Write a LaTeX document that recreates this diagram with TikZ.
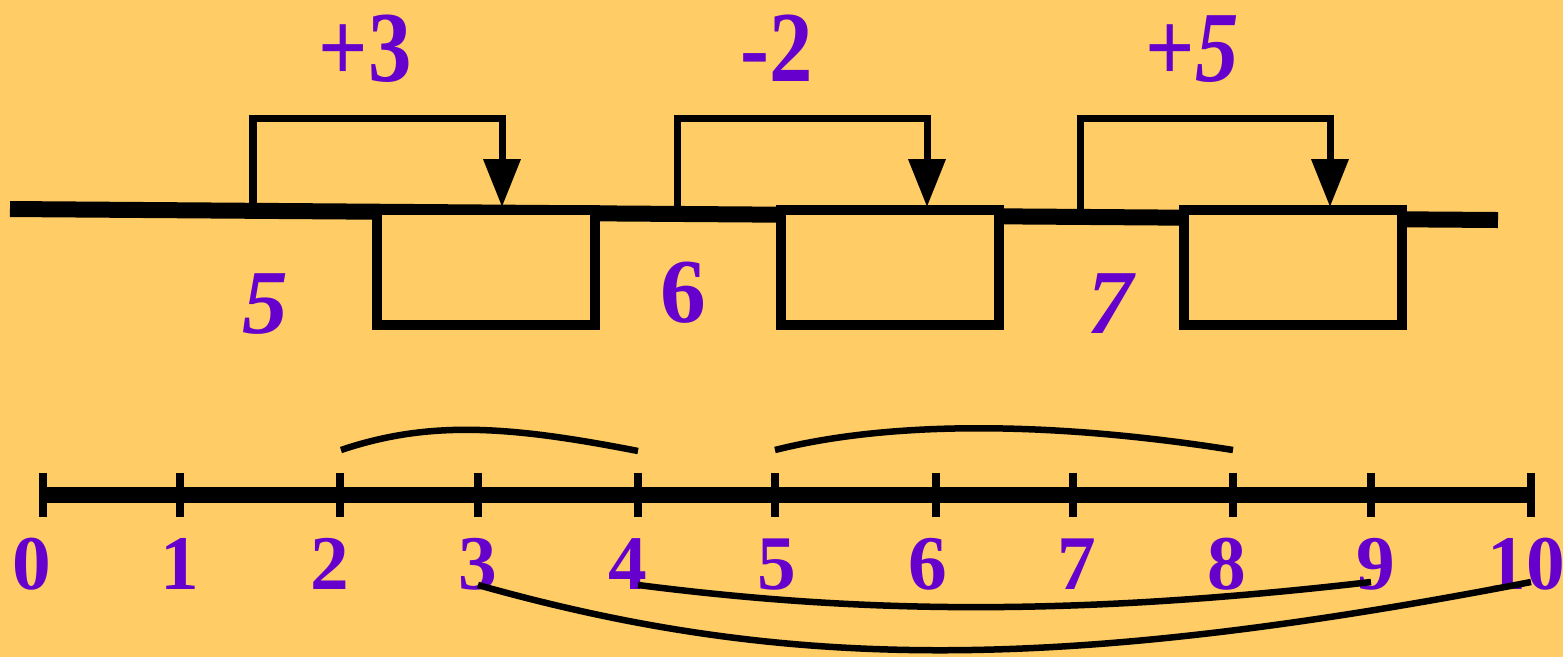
\documentclass[tikz,border=0pt]{standalone}
\usepackage{fontspec}
\setmainfont{Liberation Serif}
\usetikzlibrary{arrows.meta}
\definecolor{bg}{HTML}{FFCC66}
\definecolor{txt}{HTML}{6600CC}
\newcommand{\tallstr}[1]{\scalebox{0.95}[1.1]{#1}}
\tikzset{
  boxnode/.style={draw=black, fill=bg, line width=0.1cm, minimum width=2.18cm, minimum height=1.15cm, inner sep=0pt},
  bigtxt/.style={text=txt, font=\fontsize{26}{30}\selectfont\bfseries, anchor=base, inner sep=0pt},
  axtxt/.style={text=txt, font=\fontsize{22}{26}\selectfont\bfseries, anchor=base, inner sep=0pt},
  conn/.style={line width=0.07cm, -{Triangle[length=0.48cm,width=0.36cm]}},
  arcline/.style={line width=0.065cm},
  tickline/.style={line width=0.08cm},
}
\begin{document}
\begin{tikzpicture}[x=1cm,y=1cm]
\fill[bg] (0,0) rectangle (15.63,-6.57);
\useasboundingbox (0,0) rectangle (15.63,-6.57);
% top line
\coordinate (L0) at (0.10,-2.09);
\coordinate (L1) at (14.98,-2.20);
\draw[line width=0.16cm] (L0) -- (L1);
% boxes
\node[boxnode] (b1) at (4.86,-2.675) {};
\node[boxnode] (b2) at (8.895,-2.675) {};
\node[boxnode] (b3) at (12.93,-2.675) {};
% brackets
\coordinate (s1) at (2.53,-2.09);
\coordinate (s2) at (6.77,-2.09);
\coordinate (s3) at (10.80,-2.12);
\coordinate (t1) at (5.02,-1.18);
\coordinate (t2) at (9.27,-1.18);
\coordinate (t3) at (13.30,-1.18);
\draw[conn] (s1) |- (t1) -- (t1 |- 0,-2.07);
\draw[conn] (s2) |- (t2) -- (t2 |- 0,-2.07);
\draw[conn] (s3) |- (t3) -- (t3 |- 0,-2.07);
% top labels
\node[bigtxt] (p3) at (3.65,-0.81) {\tallstr{+3}};
\node[bigtxt] (m2) at (7.77,-0.81) {\tallstr{-2}};
\node[bigtxt] (p5) at (11.92,-0.81) {\tallstr{+\textit{5}}};
\node[bigtxt] (n5) at (2.65,-3.33) {\textit{5}};
\node[bigtxt] (n6) at (6.83,-3.22) {6};
\node[bigtxt] (n7) at (11.12,-3.33) {\textit{7}};
% number line
\coordinate (A0) at (0.43,-4.95);
\coordinate (A10) at (15.31,-4.95);
\draw[line width=0.16cm] (A0) -- (A10);
\foreach \i/\x/\lx in {0/0.43/0.32, 1/1.80/1.80, 2/3.40/3.30, 3/4.78/4.78, 4/6.38/6.28, 5/7.75/7.77, 6/9.36/9.28, 7/10.73/10.77, 8/12.33/12.27, 9/13.71/13.76, 10/15.31/15.26} {
  \draw[tickline] (\x,-4.73) -- (\x,-5.17);
  \node[axtxt] (a\i) at (\lx,-5.89) {\i};
}
% arcs above
\coordinate (u1s) at (3.41,-4.50);
\coordinate (u1e) at (6.38,-4.51);
\coordinate (u2s) at (7.75,-4.50);
\coordinate (u2e) at (12.33,-4.50);
\draw[arcline] (u1s) .. controls (4.30,-4.20) and (5.10,-4.26) .. (u1e);
\draw[arcline] (u2s) .. controls (8.90,-4.21) and (10.50,-4.21) .. (u2e);
% arcs below
\coordinate (d1s) at (4.78,-5.85);
\coordinate (d1e) at (15.31,-5.82);
\coordinate (d2s) at (6.38,-5.85);
\coordinate (d2e) at (13.71,-5.82);
\draw[arcline] (d1s) .. controls (7.80,-6.70) and (10.50,-6.75) .. (d1e);
\draw[arcline] (d2s) .. controls (8.50,-6.12) and (10.60,-6.18) .. (d2e);
\end{tikzpicture}
\end{document}
